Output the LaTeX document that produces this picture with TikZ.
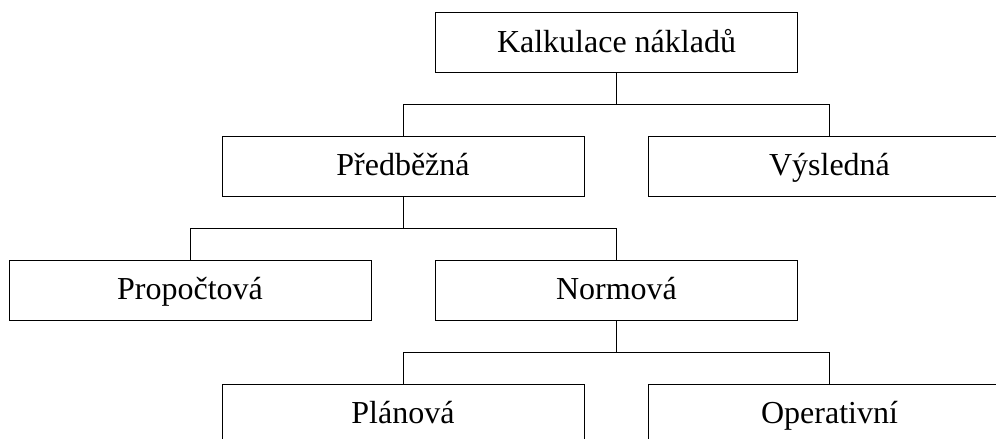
\documentclass[tikz,border=0pt]{standalone}
\usepackage{fontspec}
\setmainfont{Liberation Serif}
\begin{document}
\begin{tikzpicture}[x=1pt,y=-1pt,
  box/.style={draw=black, line width=1pt, minimum width=362pt, minimum height=60pt, inner sep=0pt, text height=22pt, text depth=2.8pt, font=\fontsize{32}{36}\selectfont, fill=white},
  conn/.style={draw=black, line width=1pt}]
\useasboundingbox (0,0) rectangle (996,439);
\clip (0,0) rectangle (996,439);
\node[box] (kal) at (616.5,42.5) {Kalkulace nákladů};
\node[box] (pre) at (403,166) {Předběžná};
\node[box] (vys) at (829.5,166) {Výsledná};
\node[box] (pro) at (190,290) {Propočtová};
\node[box] (nor) at (616.5,290) {Normová};
\node[box] (pla) at (403,414) {Plánová};
\node[box] (ope) at (829.5,414) {Operativní};
\coordinate (b1) at (0,104);
\coordinate (b2) at (0,228);
\coordinate (b3) at (0,352);
\draw[conn] (kal.south) -- (kal.south |- b1) -| (pre.north);
\draw[conn] (kal.south |- b1) -| (vys.north);
\draw[conn] (pre.south) -- (pre.south |- b2) -| (pro.north);
\draw[conn] (pre.south |- b2) -| (nor.north);
\draw[conn] (nor.south) -- (nor.south |- b3) -| (pla.north);
\draw[conn] (nor.south |- b3) -| (ope.north);
\end{tikzpicture}
\end{document}
